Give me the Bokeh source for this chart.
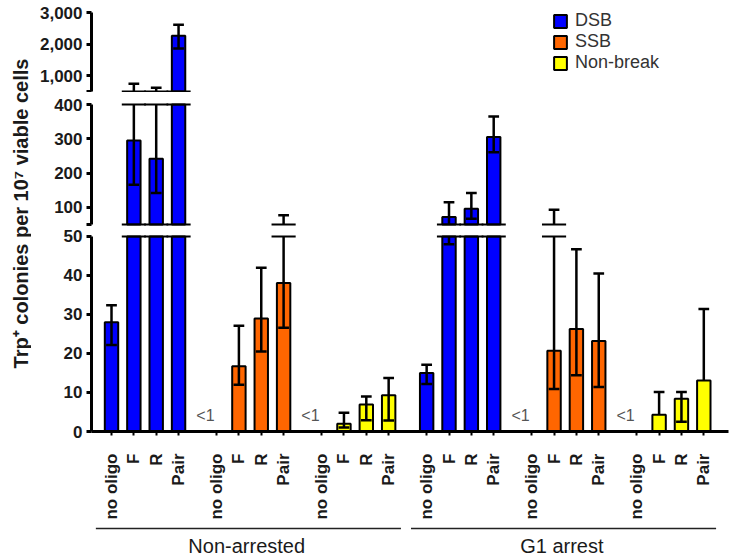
import numpy as np
from bokeh.plotting import figure
from bokeh.models import Range1d, FixedTicker, ColumnDataSource, Legend, LegendItem, Label
from bokeh.layouts import row, column
from bokeh.core.properties import value
from bokeh.embed import file_html
from bokeh.resources import INLINE

# ---------------- data ----------------
oligos = ["no oligo", "F", "R", "Pair"]
conditions = ["Non-arrested", "G1 arrest"]
series = ["DSB", "SSB", "Non-break"]
colors = ["#0000FF", "#FF6600", "#FFFF00"]

# mean values (None = "<1"), lower / upper ends of the error bars (None = not drawn)
na_dsb = [28.0, 295.0, 242.0, 2263.0]
na_dsb_lo = [22.2, 166.0, 142.0, 1860.0]
na_dsb_hi = [32.4, 746.0, 619.0, 2613.0]

na_ssb = [None, 16.7, 29.0, 38.1]
na_ssb_lo = [None, 12.0, 20.5, 26.6]
na_ssb_hi = [None, 27.1, 42.0, 77.0]

na_nb = [None, 2.0, 6.9, 9.3]
na_nb_lo = [None, 1.0, 2.9, 2.8]
na_nb_hi = [None, 4.8, 9.0, 13.7]

g1_dsb = [15.0, 72.0, 96.0, 305.0]
g1_dsb_lo = [12.2, 48.0, 67.0, 261.0]
g1_dsb_hi = [17.1, 115.0, 142.0, 365.0]

g1_ssb = [None, 20.7, 26.3, 23.2]
g1_ssb_lo = [None, 10.9, 14.4, 11.4]
g1_ssb_hi = [None, 93.0, 46.7, 40.5]

g1_nb = [None, 4.3, 8.4, 13.1]
g1_nb_lo = [None, None, 2.5, None]
g1_nb_hi = [None, 10.1, 10.1, 31.4]

means = {("Non-arrested", "DSB"): na_dsb, ("Non-arrested", "SSB"): na_ssb, ("Non-arrested", "Non-break"): na_nb,
         ("G1 arrest", "DSB"): g1_dsb, ("G1 arrest", "SSB"): g1_ssb, ("G1 arrest", "Non-break"): g1_nb}
lows = {("Non-arrested", "DSB"): na_dsb_lo, ("Non-arrested", "SSB"): na_ssb_lo, ("Non-arrested", "Non-break"): na_nb_lo,
        ("G1 arrest", "DSB"): g1_dsb_lo, ("G1 arrest", "SSB"): g1_ssb_lo, ("G1 arrest", "Non-break"): g1_nb_lo}
highs = {("Non-arrested", "DSB"): na_dsb_hi, ("Non-arrested", "SSB"): na_ssb_hi, ("Non-arrested", "Non-break"): na_nb_hi,
         ("G1 arrest", "DSB"): g1_dsb_hi, ("G1 arrest", "SSB"): g1_ssb_hi, ("G1 arrest", "Non-break"): g1_nb_hi}

# axis segments (broken y axis)
top_ticks = [1000, 2000, 3000]
mid_ticks = [100, 200, 300, 400]
bot_ticks = [0, 10, 20, 30, 40, 50]

# ---------------- layout constants ----------------
GROUP_STEP = 47
BAR_STEP = 10
BAR_W = 6.0
CAP = 2.4
BRK = 5.4
FONT = "Liberation Sans"
TXT = "#1a1a1a"
TOTAL_W = 734
TOTAL_H = 557
LEFT_W = 31
FIG_W = TOTAL_W - LEFT_W
MBL = 60
MBR = 6
X_RANGE = Range1d(-8.95, 276.05)


def xpos(c, s, i):
    return (c * 3 + s) * GROUP_STEP + i * BAR_STEP


all_x = []
x_labels = {}
for c in range(len(conditions)):
    for s in range(len(series)):
        for i, o in enumerate(oligos):
            xx = xpos(c, s, i)
            all_x.append(xx)
            x_labels[xx] = o


def seg_data(s, lo, hi, top_seg):
    bars = dict(x=[], top=[], bottom=[])
    wh = dict(x0=[], y0=[], x1=[], y1=[])
    caps = dict(x0=[], y0=[], x1=[], y1=[])
    brk = dict(x0=[], y0=[], x1=[], y1=[])
    for c, cond in enumerate(conditions):
        key = (cond, series[s])
        m, el, eh = means[key], lows[key], highs[key]
        for i in range(len(oligos)):
            v = m[i]
            if v is None:
                continue
            x = xpos(c, s, i)
            if v > lo:
                bars["x"].append(x)
                bars["top"].append(min(v, hi))
                bars["bottom"].append(lo)
            start = v if el[i] is None else el[i]
            end = eh[i]
            if end > lo and start < hi:
                for k, val in zip(("x0", "y0", "x1", "y1"), (x, max(start, lo), x, min(end, hi))):
                    wh[k].append(val)
            for e in (el[i], end):
                if e is not None and lo <= e <= hi:
                    for k, val in zip(("x0", "y0", "x1", "y1"), (x - CAP, e, x + CAP, e)):
                        caps[k].append(val)
            extent = max(v, end)
            edges = []
            if not top_seg and extent > hi:
                edges.append(hi)
            if lo > 0 and extent > lo:
                edges.append(lo)
            for e in edges:
                for k, val in zip(("x0", "y0", "x1", "y1"), (x - BRK, e, x + BRK, e)):
                    brk[k].append(val)
    return bars, wh, caps, brk


def make_seg(lo, hi, y_range, height, bt, bb, ticks, overrides, top_seg=False, bottom=False):
    p = figure(width=FIG_W, height=height, x_range=X_RANGE, y_range=y_range,
               output_backend="svg", toolbar_location=None, title=None,
               x_axis_location="below" if bottom else None,
               min_border_left=MBL, min_border_right=MBR,
               min_border_top=bt, min_border_bottom=bb)
    p.outline_line_color = None
    p.xgrid.grid_line_color = None
    p.ygrid.grid_line_color = None
    ax = p.yaxis[0]
    ax.bounds = (lo, hi)
    ax.ticker = FixedTicker(ticks=([lo] if lo > 0 else []) + ticks)
    ov = {t: overrides.get(t, str(t)) for t in ticks}
    if lo > 0:
        ov[lo] = ""
    ax.major_label_overrides = ov
    ax.axis_line_width = 3
    ax.axis_line_color = "black"
    ax.major_tick_line_width = 3
    ax.major_tick_out = 5
    ax.major_tick_in = 0
    ax.minor_tick_line_color = None
    ax.major_label_standoff = 4
    ax.major_label_text_font = FONT
    ax.major_label_text_font_style = "bold"
    ax.major_label_text_font_size = "17px"
    ax.major_label_text_color = TXT

    whs, capss, brks = [], [], []
    for s in range(len(series)):
        bars, wh, caps, brk = seg_data(s, lo, hi, top_seg)
        p.vbar(x="x", top="top", bottom="bottom", width=BAR_W, source=ColumnDataSource(bars),
               fill_color=colors[s], line_color="black", line_width=2)
        whs.append(wh)
        capss.append(caps)
        brks.append(brk)

    def merge(lst):
        out = dict(x0=[], y0=[], x1=[], y1=[])
        for d in lst:
            for k in out:
                out[k].extend(d[k])
        return out

    p.segment(x0="x0", y0="y0", x1="x1", y1="y1", source=ColumnDataSource(merge(whs)),
              line_color="black", line_width=2.5)
    p.segment(x0="x0", y0="y0", x1="x1", y1="y1", source=ColumnDataSource(merge(capss)),
              line_color="black", line_width=2.5)
    p.segment(x0="x0", y0="y0", x1="x1", y1="y1", source=ColumnDataSource(merge(brks)),
              line_color="black", line_width=2)
    return p


# top segment: 500..3000 over 79px, 1px pad at the bottom, 8px of room above 3000
p_top = make_seg(500, 3000, Range1d(500 - 1 * 2500 / 79, 3000 + 8 * 2500 / 79), 92, 4, 0,
                 top_ticks, {1000: "1,000", 2000: "2,000", 3000: "3,000"}, top_seg=True)
# middle segment: 50..400 over 120px, 2px pad each side
p_mid = make_seg(50, 400, Range1d(50 - 2 * 350 / 120, 400 + 2 * 350 / 120), 134, 10, 0,
                 mid_ticks, {})
# bottom segment: 0..50 over 196px, 2px pad on top
p_bot = make_seg(0, 50, Range1d(0, 50 + 2 * 50 / 196), 296, 8, 90, bot_ticks, {}, bottom=True)

xa = p_bot.xaxis[0]
xa.ticker = FixedTicker(ticks=all_x)
xa.major_label_overrides = x_labels
xa.major_label_orientation = np.pi / 2
xa.axis_line_width = 3
xa.axis_line_color = "black"
xa.major_tick_line_width = 2
xa.major_tick_out = 4
xa.major_tick_in = 0
xa.minor_tick_line_color = None
xa.major_label_standoff = 18
xa.major_label_text_font = FONT
xa.major_label_text_font_style = "bold"
xa.major_label_text_font_size = "17px"
xa.major_label_text_color = TXT

# "<1" markers
lt_x = []
for c, cond in enumerate(conditions):
    for s, ser in enumerate(series):
        for i, v in enumerate(means[(cond, ser)]):
            if v is None:
                lt_x.append(xpos(c, s, i))
p_bot.text(x=lt_x, y=[0] * len(lt_x), text=["<1"] * len(lt_x), x_offset=-2, y_offset=-16,
           text_align="right", text_baseline="middle", text_font=value(FONT),
           text_font_size="16px", text_color="#555555")

# legend (proxy renderers with no drawable point, styled like the bars)
proxies = []
for k in range(len(series)):
    proxies.append(p_top.vbar(x=[np.nan], top=[np.nan], bottom=[np.nan], width=BAR_W,
                              fill_color=colors[k], line_color="black", line_width=2))
legend = Legend(items=[LegendItem(label=series[k], renderers=[proxies[k]]) for k in range(3)],
                location=(461, 19), orientation="vertical")
legend.border_line_color = None
legend.background_fill_alpha = 0
legend.padding = 0
legend.margin = 0
legend.spacing = 0
legend.glyph_width = 16
legend.glyph_height = 16
legend.label_height = 16
legend.label_standoff = 7
legend.label_text_font = FONT
legend.label_text_font_size = "18px"
legend.label_text_color = "#333333"
p_top.add_layout(legend)

# group strip under the x-axis labels
STRIP_H = TOTAL_H - 92 - 134 - 296
p_grp = figure(width=FIG_W, height=STRIP_H, x_range=X_RANGE, y_range=Range1d(STRIP_H, 0),
               output_backend="svg", toolbar_location=None, title=None,
               x_axis_location=None, y_axis_location=None,
               min_border_left=MBL, min_border_right=MBR, min_border_top=0, min_border_bottom=0)
p_grp.outline_line_color = None
p_grp.xgrid.grid_line_color = None
p_grp.ygrid.grid_line_color = None
gx0, gx1, gxc = [], [], []
for c in range(len(conditions)):
    first = xpos(c, 0, 0)
    last = xpos(c, len(series) - 1, len(oligos) - 1)
    gx0.append(first - 7)
    gx1.append(last + 5.5)
    gxc.append((first + last) / 2 - 1.5)
p_grp.segment(x0=gx0, y0=[6] * 2, x1=gx1, y1=[6] * 2, line_color="#222222", line_width=1.5)
p_grp.text(x=gxc, y=[23] * 2, text=conditions, text_align="center", text_baseline="middle",
           text_font=value(FONT), text_font_size="20px", text_color=TXT)

# y-axis title panel
p_title = figure(width=LEFT_W, height=TOTAL_H, x_range=Range1d(0, LEFT_W), y_range=Range1d(TOTAL_H, 0),
                 output_backend="svg", toolbar_location=None, title=None,
                 x_axis_location=None, y_axis_location=None,
                 min_border_left=0, min_border_right=0, min_border_top=0, min_border_bottom=0)
p_title.outline_line_color = None
p_title.xgrid.grid_line_color = None
p_title.ygrid.grid_line_color = None
p_title.add_layout(Label(x=20, y=213, text="Trp\u207a colonies per 10\u2077 viable cells", angle=np.pi / 2,
                         text_align="center", text_baseline="middle", text_font=FONT,
                         text_font_style="bold", text_font_size="20px", text_color=TXT))

layout = row(p_title, column(p_top, p_mid, p_bot, p_grp))
open("out.html", "w").write(file_html(layout, INLINE))
